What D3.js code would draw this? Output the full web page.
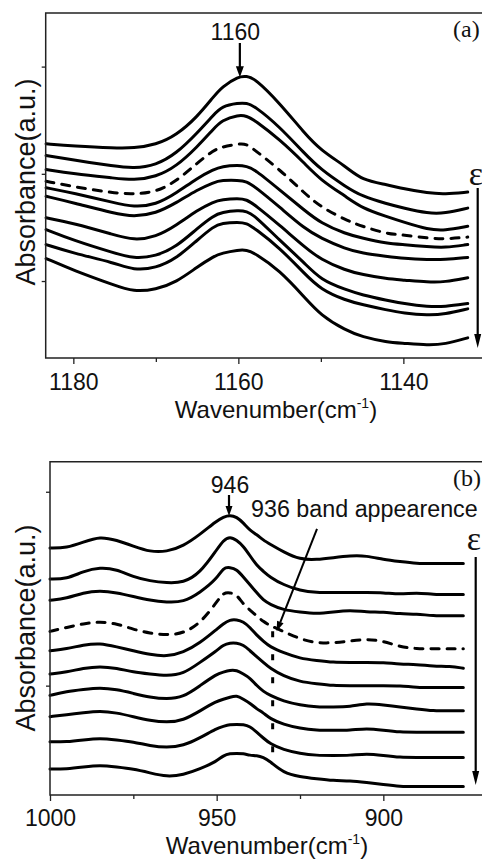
<!DOCTYPE html>
<html>
<head>
<meta charset="utf-8">
<script src="https://cdn.jsdelivr.net/npm/d3@7/dist/d3.min.js"></script>
<style>
  html, body { margin: 0; padding: 0; background: #fff; }
  svg { display: block; }
  text { font-family: "Liberation Sans", Arial, sans-serif; fill: #111; }
  .serif { font-family: "Liberation Serif", "Times New Roman", serif; }
</style>
</head>
<body>
<svg id="chart" width="482" height="859"></svg>
<script>
// ---- Panel (a): Si–O–Si band around 1160 cm-1 ----
const wavenumbersA = [1183.3, 1180, 1175, 1172.7, 1170, 1167.5, 1165, 1163, 1162, 1160, 1159, 1158,
                      1155, 1152, 1150, 1147, 1145, 1142, 1140, 1137, 1135, 1132.2];
const spectraA = [
  [2.28,2.26,2.24,2.24,2.27,2.36,2.53,2.72,2.81,2.91,2.91,2.89,2.66,2.38,2.22,2.07,1.94,1.90,1.86,1.82,1.81,1.83],
  [2.17,2.13,2.07,2.05,2.08,2.19,2.38,2.55,2.63,2.66,2.66,2.63,2.44,2.19,2.04,1.88,1.79,1.72,1.68,1.63,1.63,1.68],
  [2.04,2.00,1.96,1.94,1.97,2.07,2.25,2.42,2.50,2.55,2.54,2.50,2.32,2.10,1.94,1.79,1.68,1.60,1.55,1.48,1.47,1.51],
  [1.93,1.88,1.82,1.81,1.83,1.93,2.10,2.22,2.25,2.28,2.28,2.22,2.04,1.82,1.69,1.57,1.51,1.44,1.43,1.40,1.39,1.41],
  [1.87,1.82,1.73,1.69,1.71,1.82,1.96,2.04,2.07,2.08,2.07,2.04,1.85,1.66,1.54,1.44,1.40,1.35,1.34,1.32,1.31,1.34],
  [1.79,1.73,1.63,1.60,1.63,1.73,1.85,1.92,1.94,1.94,1.93,1.88,1.69,1.49,1.40,1.30,1.26,1.23,1.21,1.20,1.20,1.22],
  [1.59,1.54,1.43,1.38,1.41,1.52,1.66,1.74,1.76,1.77,1.76,1.71,1.52,1.32,1.20,1.10,1.06,1.02,1.01,0.99,0.99,1.03],
  [1.48,1.38,1.26,1.21,1.23,1.32,1.49,1.61,1.64,1.66,1.65,1.61,1.38,1.17,1.01,0.92,0.87,0.82,0.79,0.76,0.76,0.79],
  [1.34,1.26,1.17,1.10,1.12,1.21,1.38,1.51,1.54,1.55,1.54,1.49,1.31,1.07,0.92,0.82,0.78,0.73,0.70,0.68,0.69,0.74],
  [1.21,1.10,0.96,0.90,0.92,0.99,1.13,1.23,1.26,1.29,1.29,1.26,1.10,0.85,0.68,0.54,0.48,0.43,0.42,0.40,0.41,0.47]
];
const majorTicksA = [1180, 1160, 1140];
const minorTicksA = [1170, 1150];
const yTicksA = [1, 2, 3];
const peakA = 1160;

// ---- Panel (b): band around 946 cm-1 ----
const wavenumbersB = [1000, 995, 990, 985, 980, 975, 970, 965, 960, 955, 950, 948, 946, 944, 942, 940,
                      938, 936, 934, 930, 925, 920, 915, 910, 905, 900, 895, 890, 885, 880, 876];
const spectraB = [
  [1.71,1.71,1.74,1.77,1.75,1.72,1.69,1.69,1.72,1.78,1.85,1.87,1.88,1.87,1.84,1.80,1.78,1.75,1.73,1.69,1.65,1.65,1.66,1.67,1.67,1.65,1.64,1.63,1.63,1.63,1.63],
  [1.55,1.55,1.59,1.61,1.60,1.56,1.54,1.53,1.53,1.58,1.70,1.75,1.77,1.75,1.72,1.67,1.62,1.59,1.56,1.52,1.49,1.48,1.48,1.48,1.48,1.48,1.47,1.48,1.47,1.47,1.47],
  [1.44,1.45,1.48,1.49,1.48,1.46,1.44,1.43,1.43,1.48,1.55,1.61,1.61,1.60,1.56,1.52,1.48,1.44,1.42,1.39,1.38,1.37,1.38,1.39,1.38,1.38,1.37,1.37,1.36,1.36,1.36],
  [1.28,1.30,1.32,1.33,1.32,1.29,1.27,1.26,1.27,1.32,1.43,1.48,1.48,1.47,1.42,1.39,1.36,1.33,1.31,1.28,1.24,1.22,1.22,1.23,1.24,1.23,1.20,1.19,1.19,1.19,1.19],
  [1.18,1.19,1.21,1.22,1.20,1.18,1.16,1.15,1.17,1.22,1.29,1.32,1.34,1.34,1.33,1.30,1.26,1.23,1.20,1.17,1.14,1.13,1.12,1.12,1.12,1.12,1.11,1.11,1.10,1.10,1.09],
  [1.06,1.07,1.09,1.10,1.09,1.07,1.06,1.05,1.06,1.12,1.18,1.21,1.22,1.22,1.21,1.18,1.15,1.12,1.09,1.05,1.02,1.01,1.00,1.00,1.00,1.00,1.00,0.99,0.99,0.99,0.99],
  [0.95,0.97,0.98,0.99,0.98,0.96,0.94,0.93,0.94,1.00,1.06,1.07,1.08,1.08,1.06,1.04,1.00,0.97,0.95,0.92,0.90,0.89,0.89,0.89,0.91,0.90,0.89,0.88,0.87,0.87,0.87],
  [0.84,0.85,0.86,0.87,0.86,0.84,0.82,0.81,0.82,0.87,0.92,0.93,0.94,0.95,0.93,0.91,0.88,0.86,0.83,0.80,0.78,0.77,0.77,0.77,0.78,0.77,0.76,0.76,0.76,0.76,0.76],
  [0.71,0.71,0.72,0.73,0.72,0.71,0.69,0.68,0.69,0.73,0.78,0.79,0.80,0.80,0.80,0.79,0.76,0.73,0.70,0.67,0.65,0.64,0.64,0.64,0.65,0.64,0.63,0.63,0.63,0.63,0.63],
  [0.57,0.57,0.58,0.59,0.58,0.57,0.55,0.53,0.54,0.57,0.61,0.64,0.65,0.65,0.65,0.64,0.64,0.63,0.61,0.55,0.53,0.52,0.51,0.51,0.50,0.49,0.48,0.48,0.48,0.48,0.48]
];
const majorTicksB = [1000, 950, 900];
const minorTicksB = [975, 925];
const yTicksB = [1, 2];
const peakB = 946;
const newBand = { label: "936 band appearence", at: 933.2, from: 1.28, to: 0.57 };

// Index of the dashed spectrum in each stack
const dashedIndex = 3;

const svg = d3.select("#chart");

function drawPanel(cfg) {
  const { x, y, wn, spectra, major, minor, yTicks, tickLabelY, titleX, titleY, yTitleY } = cfg;
  const g = svg.append("g");
  const [x0, x1] = x.range();
  const [yb, yt] = y.range();

  // spectra
  const line = d3.line()
    .x((d, i) => x(wn[i]))
    .y(d => y(d))
    .curve(d3.curveBasis);
  g.selectAll("path.spec")
    .data(spectra)
    .join("path")
    .attr("class", "spec")
    .attr("d", line)
    .attr("fill", "none")
    .attr("stroke", "#000")
    .attr("stroke-width", 3)
    .attr("stroke-linejoin", "round")
    .attr("stroke-linecap", "round")
    .attr("stroke-dasharray", (d, i) => i === dashedIndex ? "8,8" : null);

  // bottom axis: major ticks with labels, minor ticks without
  const axMajor = g.append("g")
    .attr("transform", `translate(0,${yb})`)
    .call(d3.axisBottom(x).tickValues(major).tickSize(6).tickFormat(d3.format("d")));
  const axMinor = g.append("g")
    .attr("transform", `translate(0,${yb})`)
    .call(d3.axisBottom(x).tickValues(minor).tickSize(4).tickFormat(""));
  const axLeft = g.append("g")
    .attr("transform", `translate(${x0},0)`)
    .call(d3.axisLeft(y).tickValues(yTicks).tickSize(4).tickFormat(""));
  [axMajor, axMinor, axLeft].forEach(a => {
    a.select(".domain").remove();
    a.selectAll(".tick line").attr("stroke", "#222").attr("stroke-width", 1.3);
  });
  axMajor.selectAll(".tick text")
    .attr("y", tickLabelY - yb).attr("dy", null)
    .style("font-size", "23px")
    .style("font-family", "'Liberation Sans', Arial, sans-serif")
    .attr("fill", "#111");

  // frame (left, bottom, top; the right side runs past the page)
  g.append("path")
    .attr("d", `M${x1},${yt}H${x0}V${yb}H${x1}`)
    .attr("fill", "none")
    .attr("stroke", "#222")
    .attr("stroke-width", 1.5);

  // axis titles
  const t = g.append("text")
    .attr("x", titleX)
    .attr("y", titleY)
    .attr("text-anchor", "middle")
    .style("font-size", "24px");
  t.append("tspan").text("Wavenumber(cm");
  t.append("tspan").text("-1").style("font-size", "14px").attr("dy", -10);
  t.append("tspan").text(")").attr("dy", 10);

  g.append("text")
    .attr("transform", `translate(35,${yTitleY}) rotate(-90)`)
    .attr("text-anchor", "middle")
    .style("font-size", "27px")
    .text("Absorbance(a.u.)");

  return g;
}

// vertical arrow with a filled head at the lower end
function arrowDown(g, xPos, yStart, yEnd, head = 11, half = 4) {
  g.append("line")
    .attr("x1", xPos).attr("x2", xPos)
    .attr("y1", yStart).attr("y2", yEnd - head + 1)
    .attr("stroke", "#000").attr("stroke-width", 2.2);
  g.append("path")
    .attr("d", `M${xPos - half},${yEnd - head}L${xPos + half},${yEnd - head}L${xPos},${yEnd}Z`)
    .attr("fill", "#000");
}

// ---------- panel (a) ----------
const xA = d3.scaleLinear().domain([1183.35, 1129.5]).range([45.7, 490]);
const yA = d3.scaleLinear().domain([0.282, 3.5]).range([358, 13]);
const gA = drawPanel({
  x: xA, y: yA, wn: wavenumbersA, spectra: spectraA,
  major: majorTicksA, minor: minorTicksA, yTicks: yTicksA,
  tickLabelY: 390, titleX: 276, titleY: 418, yTitleY: 182
});
gA.append("text")
  .attr("x", xA(peakA) - 3).attr("y", 40)
  .attr("text-anchor", "middle")
  .style("font-size", "23px")
  .text(peakA);
arrowDown(gA, xA(peakA) + 1.5, 43, yA(d3.max(spectraA[0])) + 1);
gA.append("text").attr("class", "serif")
  .attr("x", 453).attr("y", 37)
  .style("font-size", "24px")
  .text("(a)");
gA.append("text").attr("class", "serif")
  .attr("x", 476).attr("y", 185)
  .attr("text-anchor", "middle")
  .style("font-size", "34px")
  .text("ε");
arrowDown(gA, 477.7, 188, 348, 14, 3.5);

// ---------- panel (b) ----------
const xB = d3.scaleLinear().domain([1000, 868]).range([50, 490]);
const yB = d3.scaleLinear().domain([0.436, 2.155]).range([795, 461.7]);
const gB = drawPanel({
  x: xB, y: yB, wn: wavenumbersB, spectra: spectraB,
  major: majorTicksB, minor: minorTicksB, yTicks: yTicksB,
  tickLabelY: 826, titleX: 267, titleY: 854, yTitleY: 628
});
gB.append("text")
  .attr("x", xB(peakB)).attr("y", 493)
  .attr("text-anchor", "middle")
  .style("font-size", "23px")
  .text(peakB);
arrowDown(gB, xB(peakB) - 1, 495, yB(d3.max(spectraB[0])) + 1, 10, 3.5);

// dotted guide at the emerging shoulder
gB.append("line")
  .attr("x1", xB(newBand.at)).attr("x2", xB(newBand.at))
  .attr("y1", yB(newBand.from)).attr("y2", yB(newBand.to))
  .attr("stroke", "#000").attr("stroke-width", 3)
  .attr("stroke-dasharray", "6,17");

// label and leader arrow for the new band
gB.append("text")
  .attr("x", 251).attr("y", 517)
  .style("font-size", "23.3px")
  .text(newBand.label);
{
  const xs = xB(919.9), ys = yB(1.808);
  const xe = xB(932.0), ye = yB(1.28);
  const ang = Math.atan2(ye - ys, xe - xs);
  const head = 10, half = 3.5;
  const bx = xe - head * Math.cos(ang), by = ye - head * Math.sin(ang);
  gB.append("line")
    .attr("x1", xs).attr("y1", ys).attr("x2", bx).attr("y2", by)
    .attr("stroke", "#000").attr("stroke-width", 2);
  gB.append("path")
    .attr("d", `M${xe},${ye}L${bx + half * Math.sin(ang)},${by - half * Math.cos(ang)}L${bx - half * Math.sin(ang)},${by + half * Math.cos(ang)}Z`)
    .attr("fill", "#000");
}
gB.append("text").attr("class", "serif")
  .attr("x", 453).attr("y", 486)
  .style("font-size", "24px")
  .text("(b)");
gB.append("text").attr("class", "serif")
  .attr("x", 474).attr("y", 550)
  .attr("text-anchor", "middle")
  .style("font-size", "34px")
  .text("ε");
arrowDown(gB, 475.7, 557, 785, 14, 3.5);
</script>
</body>
</html>
